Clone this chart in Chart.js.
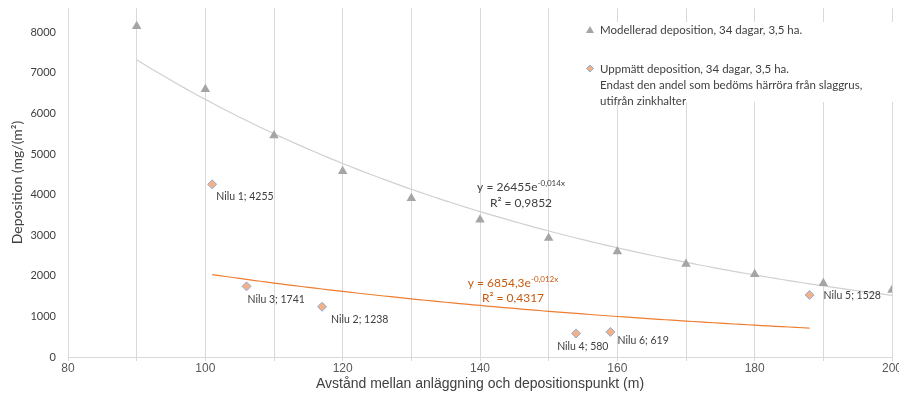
<!DOCTYPE html>
<html><head><meta charset="utf-8">
<script src="https://cdn.jsdelivr.net/npm/chart.js@4/dist/chart.umd.min.js"></script>
<style>html,body{margin:0;padding:0;background:#fff}#wrap{width:899px;height:403px;position:relative}</style>
</head><body><div id="wrap"><canvas id="c"></canvas></div>
<script>
// ---- data ----
const modelDist = [90,100,110,120,130,140,150,160,170,180,190,200];
const modelDep  = [8150,6600,5460,4580,3910,3380,2930,2600,2290,2040,1820,1650];
const measNames = ['Nilu 1','Nilu 3','Nilu 2','Nilu 4','Nilu 6','Nilu 5'];
const measDist  = [101,106,117,154,159,188];
const measDep   = [4255,1741,1238,580,619,1528];
const xTickLabels = [80,100,120,140,160,180,200];
const yTickLabels = [0,1000,2000,3000,4000,5000,6000,7000,8000];
const legendModel = ['Modellerad deposition, 34 dagar, 3,5 ha.'];
const legendMeas  = ['Uppmätt deposition, 34 dagar, 3,5 ha.','Endast den andel som bedöms härröra från slaggrus,','utifrån zinkhalter'];
const eqModel = ['y = 26455e','-0,014x','R² = 0,9852'];
const eqMeas  = ['y = 6854,3e','-0,012x','R² = 0,4317'];
const xTitle = 'Avstånd mellan anläggning och depositionspunkt (m)';
const yTitle = 'Deposition (mg/(m²)';

// label offsets (style)
const labelDx = [4,1,9,-19,7,14];
const labelDy = [12,13,13,13,9,1];

// exponential trendline (least squares on ln y), like a spreadsheet trendline
function expFit(xs, ys){
  const n=xs.length, ly=ys.map(Math.log);
  const mx=xs.reduce((a,b)=>a+b,0)/n, my=ly.reduce((a,b)=>a+b,0)/n;
  let sxy=0,sxx=0; xs.forEach((x,i)=>{sxy+=(x-mx)*(ly[i]-my); sxx+=(x-mx)*(x-mx);});
  const b=sxy/sxx, a=Math.exp(my-b*mx);
  const pts=[]; const x0=Math.min(...xs), x1=Math.max(...xs);
  for(let x=x0;x<=x1;x+=1) pts.push({x, y:a*Math.exp(b*x)});
  return pts;
}

const FONT = 'Lato, "Open Sans", sans-serif';
const NARROW = '"Liberation Sans Narrow", "Liberation Sans", Arial, sans-serif';

const overlay = {
  id:'overlay',
  afterDatasetsDraw(chart){
    const ctx=chart.ctx;
    ctx.save();
    // data labels
    const meta = chart.getDatasetMeta(1);
    ctx.font = '10.5px '+FONT; ctx.fillStyle='#404040'; ctx.textBaseline='middle'; ctx.textAlign='left';
    meta.data.forEach((pt,i)=>{ ctx.fillText(measNames[i]+'; '+measDep[i], pt.x+labelDx[i], pt.y+labelDy[i]); });
    // equations
    function eq(lines, cx, y1, y2, color){
      ctx.fillStyle=color; ctx.textBaseline='middle';
      ctx.font='12px '+FONT; const w1=ctx.measureText(lines[0]).width;
      ctx.font='8px '+FONT; const w2=ctx.measureText(lines[1]).width;
      const left=cx-(w1+w2)/2;
      ctx.textAlign='left';
      ctx.font='12px '+FONT; ctx.fillText(lines[0], left, y1);
      ctx.font='8px '+FONT; ctx.fillText(lines[1], left+w1, y1-4);
      ctx.font='12px '+FONT; ctx.textAlign='center'; ctx.fillText(lines[2], cx, y2);
    }
    eq(eqModel, 521, 187, 203, '#404040');
    eq(eqMeas, 513, 283, 298, '#C55A11');
    // legend
    ctx.fillStyle='#fff'; ctx.fillRect(583,22,316,80);
    ctx.fillStyle='#a5a5a5';
    ctx.beginPath(); ctx.moveTo(590,26); ctx.lineTo(594,33); ctx.lineTo(586,33); ctx.closePath(); ctx.fill();
    ctx.fillStyle='#f4b183'; ctx.strokeStyle='#8faadc'; ctx.lineWidth=1;
    ctx.beginPath(); ctx.moveTo(590,65); ctx.lineTo(593.5,68.5); ctx.lineTo(590,72); ctx.lineTo(586.5,68.5); ctx.closePath(); ctx.fill(); ctx.stroke();
    ctx.fillStyle='#404040'; ctx.font='11.5px '+FONT; ctx.textAlign='left'; ctx.textBaseline='middle';
    ctx.fillText(legendModel[0], 600, 30);
    legendMeas.forEach((t,i)=>ctx.fillText(t, 600, 69+i*16));
    ctx.restore();
  }
};

new Chart(document.getElementById('c'), {
  type:'scatter',
  data:{ datasets:[
    { label:legendModel[0], data:modelDist.map((x,i)=>({x,y:modelDep[i]})), pointStyle:'triangle', radius:5.5, pointHoverRadius:5.5,
      backgroundColor:'#a5a5a5', borderColor:'#a5a5a5', borderWidth:0, order:0 },
    { label:legendMeas[0], data:measDist.map((x,i)=>({x,y:measDep[i]})), pointStyle:'rectRot', radius:4.5, pointHoverRadius:4.5,
      backgroundColor:'#f4b183', borderColor:'#8faadc', borderWidth:1, order:0 },
    { type:'line', label:'trend1', data:expFit(modelDist, modelDep), showLine:true, pointRadius:0, borderColor:'#d0d0d0', borderWidth:1.2, fill:false, order:1 },
    { type:'line', label:'trend2', data:expFit(measDist, measDep), showLine:true, pointRadius:0, borderColor:'#ED7D31', borderWidth:1.2, fill:false, order:1 }
  ]},
  options:{
    responsive:true, maintainAspectRatio:false, animation:false,
    layout:{ padding:{left:0,right:7,top:8,bottom:10} },
    plugins:{ legend:{display:false}, tooltip:{enabled:false} },
    scales:{
      x:{ type:'linear', min:80, max:200,
        afterBuildTicks(s){ s.ticks=[]; for(let v=80; v<=200; v+=10) s.ticks.push({value:v}); },
        afterFit(s){ s.height=36; s.paddingLeft=0; s.paddingRight=0; },
        ticks:{ autoSkip:false, maxRotation:0, padding:0, color:'#595959', font:{family:NARROW, size:12},
          callback:(v)=> xTickLabels.includes(v)? String(v):'' },
        grid:{ color:'#d9d9d9', lineWidth:1, drawTicks:true, tickLength:4, tickColor:'#d9d9d9' },
        border:{ display:true, color:'#d9d9d9' },
        title:{ display:true, text:xTitle, color:'#404040', font:{family:NARROW, size:14}, padding:{top:0,bottom:0} }
      },
      y:{ type:'linear', min:0, max:8600,
        afterBuildTicks(s){ s.ticks = yTickLabels.map(v=>({value:v})); },
        afterFit(s){ s.width=68; s.paddingTop=0; s.paddingBottom=0; },
        ticks:{ padding:12, color:'#404040', font:{family:FONT, size:11}, callback:(v)=>String(v) },
        grid:{ display:false, drawTicks:false },
        border:{ display:true, color:'#d9d9d9' },
        title:{ display:true, text:yTitle, color:'#404040', font:{family:FONT, size:14}, padding:{top:9,bottom:0} }
      }
    }
  },
  plugins:[overlay]
});
</script></body></html>
